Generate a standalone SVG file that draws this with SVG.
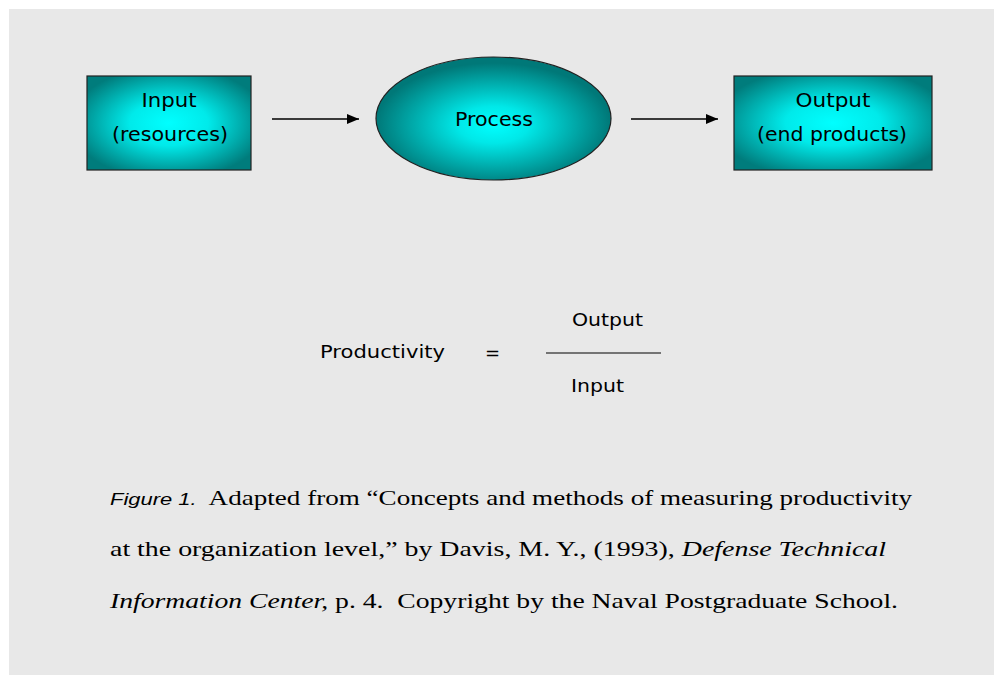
<svg xmlns="http://www.w3.org/2000/svg" width="994" height="675" viewBox="0 0 994 675">
<defs>
<style>
.node-text{font-family:"DejaVu Sans","Liberation Sans",sans-serif;font-size:20px;fill:#000;text-anchor:middle}
.formula{font-family:"DejaVu Sans","Liberation Sans",sans-serif;font-size:18px;fill:#000}
.caption{font-family:"Liberation Serif","DejaVu Serif",serif;font-size:21px;fill:#000}
.conn{stroke:#000;stroke-width:1.5;fill:none}
.shape{stroke:#222;stroke-width:1.2}
</style>
<radialGradient id="gbox" cx="0.5" cy="0.5" r="0.6">
<stop offset="0" stop-color="#00ffff"/>
<stop offset="0.4" stop-color="#00eaea"/>
<stop offset="1" stop-color="#007c7c"/>
</radialGradient>
<radialGradient id="gell" cx="0.5" cy="0.55" r="0.5">
<stop offset="0" stop-color="#00ffff"/>
<stop offset="0.3" stop-color="#00e8e8"/>
<stop offset="1" stop-color="#007878"/>
</radialGradient>
<marker id="arr" markerWidth="12" markerHeight="10" refX="12" refY="5" orient="auto" markerUnits="userSpaceOnUse">
<path d="M0,0 L12,5 L0,10 Z" fill="#000"/>
</marker>
</defs>
<rect x="0" y="0" width="994" height="675" fill="#ffffff"/>
<rect x="9" y="9" width="985" height="666" fill="#e8e8e8"/>
<g id="connectors">
<line class="conn" x1="272" y1="119" x2="359" y2="119" marker-end="url(#arr)"/>
<line class="conn" x1="631" y1="119" x2="718" y2="119" marker-end="url(#arr)"/>
</g>
<g id="input">
<rect class="shape" x="87" y="76" width="164" height="94" fill="url(#gbox)"/>
<text class="node-text" x="169" y="107" textLength="55" lengthAdjust="spacingAndGlyphs">Input</text>
<text class="node-text" x="170" y="141" textLength="116" lengthAdjust="spacingAndGlyphs">(resources)</text>
</g>
<g id="process">
<ellipse class="shape" cx="493.5" cy="118.5" rx="117.5" ry="61.5" fill="url(#gell)"/>
<text class="node-text" x="494" y="126" textLength="78" lengthAdjust="spacingAndGlyphs">Process</text>
</g>
<g id="output">
<rect class="shape" x="734" y="76" width="198" height="94" fill="url(#gbox)"/>
<text class="node-text" x="833" y="107" textLength="75" lengthAdjust="spacingAndGlyphs">Output</text>
<text class="node-text" x="832" y="141" textLength="150" lengthAdjust="spacingAndGlyphs">(end products)</text>
</g>
<g id="formula">
<text class="formula" x="320" y="358" textLength="125" lengthAdjust="spacingAndGlyphs">Productivity</text>
<text class="formula" x="485" y="359">=</text>
<text class="formula" x="572" y="326" textLength="71" lengthAdjust="spacingAndGlyphs">Output</text>
<line x1="546" y1="353" x2="661" y2="353" stroke="#000" stroke-width="1.2"/>
<text class="formula" x="571" y="392" textLength="53" lengthAdjust="spacingAndGlyphs">Input</text>
</g>
<g id="caption">
<text class="caption" x="110" y="505" textLength="802" lengthAdjust="spacingAndGlyphs"><tspan font-style="italic" font-family="Liberation Sans, sans-serif" font-size="17">Figure 1.</tspan>&#160; Adapted from “Concepts and methods of measuring productivity</text>
<text class="caption" x="110" y="556" textLength="776" lengthAdjust="spacingAndGlyphs">at the organization level,” by Davis, M. Y., (1993), <tspan font-style="italic">Defense Technical</tspan></text>
<text class="caption" x="110" y="608" textLength="788" lengthAdjust="spacingAndGlyphs"><tspan font-style="italic">Information Center,</tspan> p. 4.&#160; Copyright by the Naval Postgraduate School.</text>
</g>
</svg>
